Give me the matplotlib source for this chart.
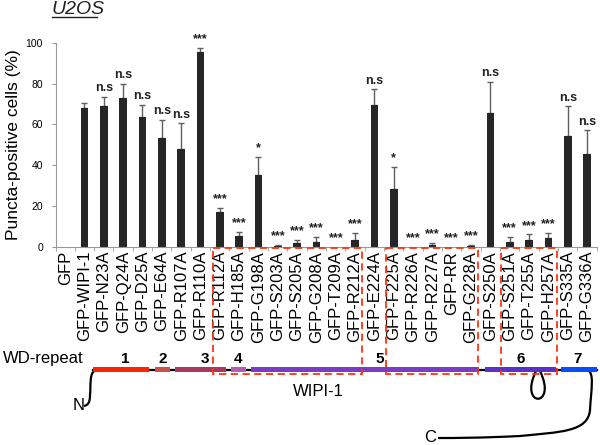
import matplotlib.pyplot as plt
import numpy as np
from matplotlib.patches import Rectangle, PathPatch
from matplotlib.path import Path
from matplotlib.transforms import blended_transform_factory

plt.rcParams['font.family'] = ['Liberation Sans', 'DejaVu Sans']

labels = ['GFP', 'GFP-WIPI-1', 'GFP-N23A', 'GFP-Q24A', 'GFP-D25A', 'GFP-E64A',
          'GFP-R107A', 'GFP-R110A', 'GFP-R112A', 'GFP-H185A', 'GFP-G198A',
          'GFP-S203A', 'GFP-S205A', 'GFP-G208A', 'GFP-T209A', 'GFP-R212A',
          'GFP-E224A', 'GFP-F225A', 'GFP-R226A', 'GFP-R227A', 'GFP-RR',
          'GFP-G228A', 'GFP-S250A', 'GFP-S251A', 'GFP-T255A', 'GFP-H257A',
          'GFP-S335A', 'GFP-G336A']
values = [0, 68, 69, 72.7, 63.4, 53.4, 47.7, 95.4, 17, 5.1, 35.1, 0.2, 1.6, 2.3,
          0, 3.3, 69.5, 28.3, 0, 0.8, 0, 0.3, 65.4, 2.3, 3.3, 4.3, 54.3, 45.4]
errors = [0, 2.5, 4.5, 7.3, 6.1, 8.6, 12.8, 2.1, 1.8, 2.1, 8.7, 0.8, 1.7, 2.3,
          0, 3.2, 7.6, 10.9, 0, 0.8, 0, 0.5, 15.5, 2.3, 2.7, 2.2, 14.5, 11.6]
signif = ['', '', 'n.s', 'n.s', 'n.s', 'n.s', 'n.s', '***', '***', '***', '*',
          '***', '***', '***', '***', '***', 'n.s', '*', '***', '***', '***',
          '***', 'n.s', '***', '***', '***', 'n.s', 'n.s']

# WIPI-1 domain sketch (pixel positions on the figure)
domains = [(93, 149, '#ff2200'), (155, 170, '#c8524a'), (175, 226, '#a8385c'),
           (231, 246, '#b35cb3'), (251, 479, '#7a3cc4'), (485, 556, '#5a32c8'),
           (561, 597, '#0a4cff')]
repeat_nums = [(125, '1'), (163, '2'), (205, '3'), (238, '4'), (380, '5'),
               (521, '6'), (578, '7')]
# red boxes: category span (data x) of the highlighted mutants
boxes = [(7.67, 15.38), (16.61, 21.38), (22.56, 25.44)]

fig = plt.figure(figsize=(6, 4.45), dpi=100)
ax = fig.add_axes([55.5 / 600, 1 - 246.7 / 445, 541.2 / 600, 204 / 445])

x = np.arange(len(labels))
ax.bar(x, values, width=0.4, color='#262626', zorder=2)
vals = np.array(values)
errs = np.array(errors)
m = errs > 0
ax.errorbar(x[m], vals[m], yerr=[np.zeros(m.sum()), errs[m]], fmt='none',
            ecolor='#606060', elinewidth=1, capsize=2, capthick=1, zorder=1)

for i, s in enumerate(signif):
    if s:
        ax.annotate(s, (i, values[i] + errors[i]), xytext=(0, 2),
                    textcoords='offset points', ha='center', va='bottom',
                    fontsize=9, fontweight='bold', color='#222222',
                    annotation_clip=False)

ax.set_xlim(-0.5, len(labels) - 0.5)
ax.set_ylim(0, 100)
ax.set_yticks([0, 20, 40, 60, 80, 100])
ax.set_xticks(x)
ax.set_xticklabels(labels, rotation=90, fontsize=12)
ax.set_xticks(np.arange(len(labels) + 1) - 0.5, minor=True)
ax.tick_params(axis='x', which='major', length=0, pad=3)
ax.tick_params(axis='x', which='minor', length=3, color='#999999')
ax.tick_params(axis='y', length=3, color='#999999', labelsize=7.5, pad=6)
for side in ['top', 'right']:
    ax.spines[side].set_visible(False)
for side in ['left', 'bottom']:
    ax.spines[side].set_color('#999999')
ax.set_ylabel('Puncta-positive cells (%)', fontsize=12.5)
ax.yaxis.set_label_coords(-0.063, 0.5)

fig.text(52 / 600, 1 - 10 / 445, 'U2OS', fontsize=14, style='italic',
         ha='left', va='center', color='#222222')
fig.add_artist(plt.Line2D([52 / 600, 97 / 600], [1 - 17 / 445, 1 - 17 / 445],
                          color='#222222', lw=1))

# overlay in pixel coordinates for the domain diagram
dax = fig.add_axes([0, 0, 1, 1])
dax.set_xlim(0, 600)
dax.set_ylim(445, 0)
dax.axis('off')
dax.patch.set_alpha(0)

line_y = 369.5
dax.plot([93, 597], [line_y, line_y], color='black', lw=1.6, zorder=2)
for x0, x1, c in domains:
    dax.add_patch(Rectangle((x0, line_y - 2.6), x1 - x0, 5.2, color=c, lw=0,
                            zorder=3))
for xp, t in repeat_nums:
    dax.text(xp, 359, t, ha='center', va='center', fontsize=11,
             fontweight='bold')
dax.text(3, 358, 'WD-repeat', ha='left', va='center', fontsize=12)
dax.text(318, 392, 'WIPI-1', ha='center', va='center', fontsize=12)
dax.text(79, 405, 'N', ha='center', va='center', fontsize=12)
dax.text(430, 437, 'C', ha='center', va='center', fontsize=12)

n_path = Path([(96, 370), (89, 372), (91, 385), (90, 395),
               (90, 403), (88, 405), (84, 406)],
              [Path.MOVETO, Path.CURVE4, Path.CURVE4, Path.CURVE4,
               Path.CURVE4, Path.CURVE4, Path.CURVE4])
dax.add_patch(PathPatch(n_path, fill=False, lw=1.6, color='black'))

c_path = Path([(587, 370), (595, 372), (591, 390), (590, 410),
               (588, 432), (560, 432), (520, 436),
               (480, 438), (455, 438), (438, 438)],
              [Path.MOVETO, Path.CURVE4, Path.CURVE4, Path.CURVE4,
               Path.CURVE4, Path.CURVE4, Path.CURVE4,
               Path.CURVE4, Path.CURVE4, Path.CURVE4])
dax.add_patch(PathPatch(c_path, fill=False, lw=1.6, color='black'))

loop_path = Path([(536, 371), (518, 408), (558, 408), (540, 371)],
                 [Path.MOVETO, Path.CURVE4, Path.CURVE4, Path.CURVE4])
dax.add_patch(PathPatch(loop_path, fill=False, lw=1.6, color='black'))

bt = blended_transform_factory(ax.transData, dax.transData)
for b0, b1 in boxes:
    dax.add_patch(Rectangle((b0, 247.5), b1 - b0, 373.5 - 247.5, transform=bt,
                            fill=False, ec='#ff3311', lw=1.3,
                            ls=(0, (4, 2.5)), zorder=5))

fig.savefig('out.png', dpi=100)
